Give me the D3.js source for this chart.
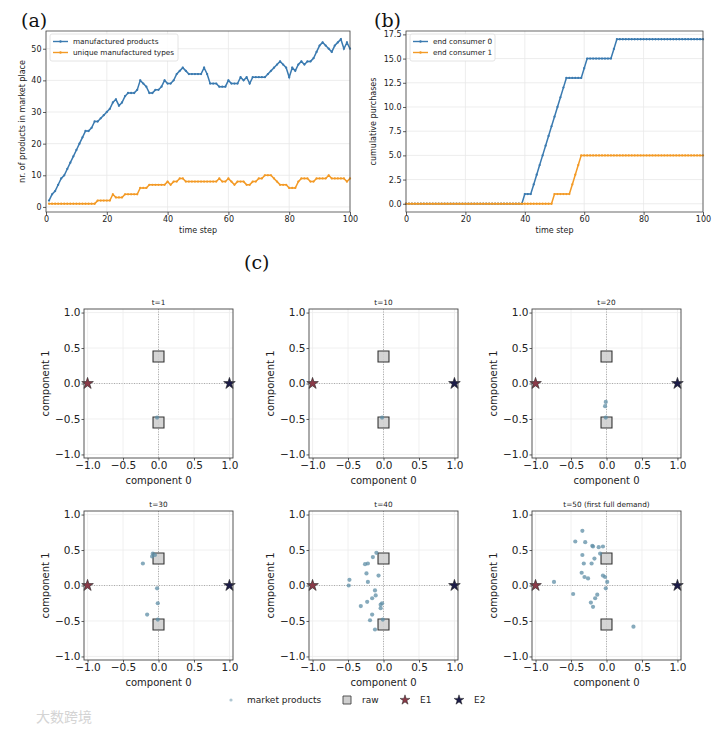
<!DOCTYPE html>
<html>
<head>
<meta charset="utf-8">
<script src="https://cdn.jsdelivr.net/npm/d3@7"></script>
<style>
body { margin: 0; background: #fff; }
svg text { font-family: "DejaVu Sans", sans-serif; }
</style>
</head>
<body>
<div id="chart"></div>
<script>
// ---- data ----
// (a) products in market place, time steps 1..100
var stepsA = d3.range(1, 101);
var productsA = [2,4,5,7,9,10,12,14,16,18, 20,22,24,24,25,27,27,28,29,30,
	31,33,34,32,33,35,36,36,36,37, 40,39,38,36,36,37,37,38,40,39,
	39,40,42,43,44,43,42,42,42,42, 42,44,42,39,39,39,38,38,38,40,
	39,39,39,41,40,41,39,41,41,41, 41,41,42,43,44,45,46,45,44,41,
	44,43,45,46,45,46,46,47,49,51, 52,51,50,49,51,52,53,50,52,50];
var typesA = [1,1,1,1,1,1,1,1,1,1, 1,1,1,1,1,1,2,2,2,2,
	2,4,3,3,3,4,4,4,4,4, 6,6,6,7,7,7,7,7,7,8,
	7,8,8,9,9,8,8,8,8,8, 8,8,8,8,8,8,9,8,8,9,
	8,7,8,8,8,7,7,8,8,9, 9,10,10,10,9,8,7,7,7,6,
	6,6,8,9,9,9,8,8,9,9, 9,9,10,9,9,9,9,9,8,9];
var seriesNamesA = ["manufactured products", "unique manufactured types"];

// (b) cumulative purchases, time steps 0..100
var stepsB = d3.range(0, 101);
var consumer0 = [0,0,0,0,0,0,0,0,0,0, 0,0,0,0,0,0,0,0,0,0,
	0,0,0,0,0,0,0,0,0,0, 0,0,0,0,0,0,0,0,0,0,
	1,1,1,2,3,4,5,6,7,8, 9,10,11,12,13,13,13,13,13,13,
	14,15,15,15,15,15,15,15,15,15, 16,17,17,17,17,17,17,17,17,17,
	17,17,17,17,17,17,17,17,17,17, 17,17,17,17,17,17,17,17,17,17, 17];
var consumer1 = [0,0,0,0,0,0,0,0,0,0, 0,0,0,0,0,0,0,0,0,0,
	0,0,0,0,0,0,0,0,0,0, 0,0,0,0,0,0,0,0,0,0,
	0,0,0,0,0,0,0,0,0,0, 1,1,1,1,1,1,2,3,4,5,
	5,5,5,5,5,5,5,5,5,5, 5,5,5,5,5,5,5,5,5,5,
	5,5,5,5,5,5,5,5,5,5, 5,5,5,5,5,5,5,5,5,5, 5];
var seriesNamesB = ["end consumer 0", "end consumer 1"];

// (c) embeddings
var panelTitles = ["t=1", "t=10", "t=20", "t=30", "t=40", "t=50 (first full demand)"];
var market1 = [[-0.02,-0.48]];
var market10 = [[-0.02,-0.48]];
var market20 = [[-0.01,-0.26],[-0.02,-0.32],[-0.01,-0.48]];
var market30 = [[-0.08,0.45],[-0.09,0.41],[-0.22,0.31],[-0.02,-0.04],[-0.01,-0.25],
	[-0.16,-0.41],[-0.01,-0.48],[-0.05,0.43]];
var market40 = [[-0.10,0.46],[-0.15,0.40],[-0.26,0.30],[-0.22,0.31],[-0.24,0.17],
	[-0.07,0.14],[-0.22,0.05],[-0.48,0.08],[-0.49,0.00],[-0.12,-0.07],
	[-0.11,-0.14],[-0.16,-0.18],[-0.23,-0.23],[-0.02,-0.25],[-0.04,-0.27],
	[-0.04,-0.32],[-0.32,-0.29],[-0.16,-0.41],[-0.19,-0.49],[-0.01,-0.48],[-0.12,-0.62]];
var market50 = [[-0.34,0.77],[-0.44,0.62],[-0.30,0.61],[-0.20,0.56],[-0.19,0.55],
	[-0.11,0.54],[-0.05,0.55],[-0.34,0.43],[-0.09,0.45],[-0.17,0.38],
	[-0.32,0.31],[-0.21,0.31],[-0.35,0.18],[-0.31,0.12],[-0.26,0.10],
	[-0.05,0.14],[-0.02,0.12],[0.01,0.05],[-0.01,-0.04],[-0.74,0.05],
	[-0.47,-0.12],[-0.13,-0.13],[-0.16,-0.18],[-0.22,-0.24],[-0.19,-0.30],[0.38,-0.58]];
var marketSets = [market1, market10, market20, market30, market40, market50];
var rawPoints = [[0, 0.38], [0, -0.55]];
var endNames = ["E1", "E2"];
var endPoints = [[-1, 0], [1, 0]];
var compTicks = [-1, -0.5, 0, 0.5, 1];

// ---- styles ----
var blue = "#3a7ab0", orange = "#f39a26";
var endColors = ["#8a3a48", "#1c1c48"];
var dotColor = "#5e8ea6";

var svg = d3.select("#chart").append("svg")
	.attr("width", 719).attr("height", 732);

function styleAxis(g, size) {
	g.select(".domain").remove();
	g.selectAll(".tick line").attr("stroke", "#333").attr("stroke-width", 0.8);
	g.selectAll(".tick text").attr("font-size", size).attr("fill", "#222");
}

//line chart panels (a) and (b)
function linePanel(cfg) {
	var x = d3.scaleLinear().domain(cfg.xDomain).range([cfg.left, cfg.right]);
	var y = d3.scaleLinear().domain(cfg.yDomain).range([cfg.bottom, cfg.top]);
	var g = svg.append("g");

	g.append("g").selectAll("line").data(cfg.xTicks).join("line")
		.attr("x1", function(d) { return x(d); }).attr("x2", function(d) { return x(d); })
		.attr("y1", cfg.top).attr("y2", cfg.bottom)
		.attr("stroke", "#e8e8e8").attr("stroke-width", 0.8);
	g.append("g").selectAll("line").data(cfg.yTicks).join("line")
		.attr("y1", function(d) { return y(d); }).attr("y2", function(d) { return y(d); })
		.attr("x1", cfg.left).attr("x2", cfg.right)
		.attr("stroke", "#e8e8e8").attr("stroke-width", 0.8);

	cfg.series.forEach(function(s) {
		var line = d3.line()
			.x(function(d, i) { return x(cfg.steps[i]); })
			.y(function(d) { return y(d); });
		g.append("path").datum(s.values)
			.attr("fill", "none").attr("stroke", s.color).attr("stroke-width", 1.5)
			.attr("d", line);
		g.append("g").selectAll("circle").data(s.values).join("circle")
			.attr("cx", function(d, i) { return x(cfg.steps[i]); })
			.attr("cy", function(d) { return y(d); })
			.attr("r", 1.15).attr("fill", s.color);
	});

	g.append("rect").attr("x", cfg.left).attr("y", cfg.top)
		.attr("width", cfg.right - cfg.left).attr("height", cfg.bottom - cfg.top)
		.attr("fill", "none").attr("stroke", "#444").attr("stroke-width", 0.8);

	g.append("g").attr("transform", "translate(0," + cfg.bottom + ")")
		.call(d3.axisBottom(x).tickValues(cfg.xTicks).tickSize(3).tickPadding(1.5))
		.call(styleAxis, 8);
	g.append("g").attr("transform", "translate(" + cfg.left + ",0)")
		.call(d3.axisLeft(y).tickValues(cfg.yTicks).tickSize(3).tickPadding(1.5)
			.tickFormat(cfg.yFormat))
		.call(styleAxis, 8);

	g.append("text").attr("x", (cfg.left + cfg.right) / 2).attr("y", 233)
		.attr("text-anchor", "middle").attr("font-size", 8).attr("fill", "#222")
		.text("time step");
	g.append("text")
		.attr("transform", "translate(" + cfg.ylabelX + "," + (cfg.top + cfg.bottom) / 2 + ") rotate(-90)")
		.attr("text-anchor", "middle").attr("font-size", 8).attr("fill", "#222")
		.text(cfg.ylabel);

	// legend
	var lg = g.append("g").attr("transform", "translate(" + (cfg.left + 4) + "," + (cfg.top + 3) + ")");
	lg.append("rect").attr("width", cfg.legendWidth).attr("height", 27).attr("rx", 2)
		.attr("fill", "#fff").attr("fill-opacity", 0.85).attr("stroke", "#ddd").attr("stroke-width", 0.8);
	cfg.series.forEach(function(s, i) {
		var yy = 7.5 + i * 11;
		lg.append("line").attr("x1", 3).attr("x2", 18).attr("y1", yy).attr("y2", yy)
			.attr("stroke", s.color).attr("stroke-width", 1.4);
		lg.append("circle").attr("cx", 10.5).attr("cy", yy).attr("r", 1.2).attr("fill", s.color);
		lg.append("text").attr("x", 23).attr("y", yy + 2.5).attr("font-size", 7.3)
			.attr("fill", "#222").text(s.name);
	});
}

linePanel({
	left: 46, right: 350, top: 31, bottom: 212,
	xDomain: [0, 100], yDomain: [-1.6, 55.6],
	xTicks: [0, 20, 40, 60, 80, 100], yTicks: [0, 10, 20, 30, 40, 50],
	yFormat: d3.format("d"), steps: stepsA, ylabelX: 25,
	ylabel: "nr. of products in market place", legendWidth: 128,
	series: [{name: seriesNamesA[0], values: productsA, color: blue},
		{name: seriesNamesA[1], values: typesA, color: orange}]
});

linePanel({
	left: 406, right: 703, top: 31, bottom: 212,
	xDomain: [0, 100], yDomain: [-0.85, 17.85],
	xTicks: [0, 20, 40, 60, 80, 100], yTicks: [0, 2.5, 5, 7.5, 10, 12.5, 15, 17.5],
	yFormat: d3.format(".1f"), steps: stepsB, ylabelX: 376,
	ylabel: "cumulative purchases", legendWidth: 85,
	series: [{name: seriesNamesB[0], values: consumer0, color: blue},
		{name: seriesNamesB[1], values: consumer1, color: orange}]
});

// panel letters
[["(a)", 21, 27], ["(b)", 374, 27], ["(c)", 244, 269]].forEach(function(l) {
	svg.append("text").attr("x", l[1]).attr("y", l[2])
		.attr("font-size", 19).attr("fill", "#111")
		.style("font-family", "'DejaVu Serif', serif").text(l[0]);
});

//scatter panels (c)
var panelLefts = [84, 309, 532], panelTops = [309, 511], pSize = 149;
var star = d3.symbol().type(d3.symbolStar).size(42);
var square = d3.symbol().type(d3.symbolSquare).size(120);

marketSets.forEach(function(pts, k) {
	var left = panelLefts[k % 3], top = panelTops[Math.floor(k / 3)];
	var x = d3.scaleLinear().domain([-1.05, 1.05]).range([left, left + pSize]);
	var y = d3.scaleLinear().domain([-1.05, 1.05]).range([top + pSize, top]);
	var g = svg.append("g");

	g.append("g").selectAll("line").data(compTicks).join("line")
		.attr("x1", function(d) { return x(d); }).attr("x2", function(d) { return x(d); })
		.attr("y1", top).attr("y2", top + pSize)
		.attr("stroke", "#ececec").attr("stroke-width", 0.8);
	g.append("g").selectAll("line").data(compTicks).join("line")
		.attr("y1", function(d) { return y(d); }).attr("y2", function(d) { return y(d); })
		.attr("x1", left).attr("x2", left + pSize)
		.attr("stroke", "#ececec").attr("stroke-width", 0.8);
	g.append("line").attr("x1", x(0)).attr("x2", x(0)).attr("y1", top).attr("y2", top + pSize)
		.attr("stroke", "#999").attr("stroke-width", 0.8).attr("stroke-dasharray", "1,1.5");
	g.append("line").attr("y1", y(0)).attr("y2", y(0)).attr("x1", left).attr("x2", left + pSize)
		.attr("stroke", "#999").attr("stroke-width", 0.8).attr("stroke-dasharray", "1,1.5");

	g.append("g").selectAll("path").data(rawPoints).join("path")
		.attr("transform", function(d) { return "translate(" + x(d[0]) + "," + y(d[1]) + ")"; })
		.attr("d", square).attr("fill", "#cfcfcf").attr("fill-opacity", 0.9)
		.attr("stroke", "#333").attr("stroke-width", 1.1);

	g.append("g").selectAll("circle").data(pts).join("circle")
		.attr("cx", function(d) { return x(d[0]); }).attr("cy", function(d) { return y(d[1]); })
		.attr("r", 2.1).attr("fill", dotColor).attr("fill-opacity", 0.75);

	g.append("g").selectAll("path").data(endPoints).join("path")
		.attr("transform", function(d) { return "translate(" + x(d[0]) + "," + y(d[1]) + ")"; })
		.attr("d", star).attr("fill", function(d, i) { return endColors[i]; })
		.attr("stroke", "#222").attr("stroke-width", 0.6);

	g.append("rect").attr("x", left).attr("y", top).attr("width", pSize).attr("height", pSize)
		.attr("fill", "none").attr("stroke", "#444").attr("stroke-width", 0.9);

	var fmt = d3.format(".1f");
	g.append("g").attr("transform", "translate(0," + (top + pSize) + ")")
		.call(d3.axisBottom(x).tickValues(compTicks).tickSize(2.5).tickPadding(1.5).tickFormat(fmt))
		.call(styleAxis, 10.5);
	g.append("g").attr("transform", "translate(" + left + ",0)")
		.call(d3.axisLeft(y).tickValues(compTicks).tickSize(2.5).tickPadding(1).tickFormat(fmt))
		.call(styleAxis, 10.5);

	g.append("text").attr("x", left + pSize / 2).attr("y", top - 4)
		.attr("text-anchor", "middle").attr("font-size", 7.3).attr("fill", "#222")
		.text(panelTitles[k]);
	g.append("text").attr("x", left + pSize / 2).attr("y", top + pSize + 26)
		.attr("text-anchor", "middle").attr("font-size", 10).attr("fill", "#222")
		.text("component 0");
	g.append("text")
		.attr("transform", "translate(" + (left - 35) + "," + (top + pSize / 2) + ") rotate(-90)")
		.attr("text-anchor", "middle").attr("font-size", 10).attr("fill", "#222")
		.text("component 1");
});

// legend of (c)
var lc = svg.append("g").attr("transform", "translate(0,700)");
lc.append("circle").attr("cx", 231).attr("cy", 0).attr("r", 1.6).attr("fill", dotColor).attr("fill-opacity", 0.5);
lc.append("text").attr("x", 247).attr("y", 3.3).attr("font-size", 9).attr("fill", "#222").text("market products");
lc.append("path").attr("transform", "translate(347,0)").attr("d", d3.symbol().type(d3.symbolSquare).size(64))
	.attr("fill", "#cfcfcf").attr("stroke", "#444").attr("stroke-width", 0.9);
lc.append("text").attr("x", 362).attr("y", 3.3).attr("font-size", 9).attr("fill", "#222").text("raw");
endNames.forEach(function(n, i) {
	var cx = [405, 459][i];
	lc.append("path").attr("transform", "translate(" + cx + ",0)").attr("d", d3.symbol().type(d3.symbolStar).size(30))
		.attr("fill", endColors[i]).attr("stroke", "#222").attr("stroke-width", 0.5);
	lc.append("text").attr("x", cx + 15).attr("y", 3.3).attr("font-size", 9).attr("fill", "#222").text(n);
});

// watermark
svg.append("text").attr("x", 36).attr("y", 722).attr("font-size", 14)
	.style("font-family", "'Noto Sans CJK SC', sans-serif").attr("fill", "#d4d4d4").text("大数跨境");
</script>
</body>
</html>
